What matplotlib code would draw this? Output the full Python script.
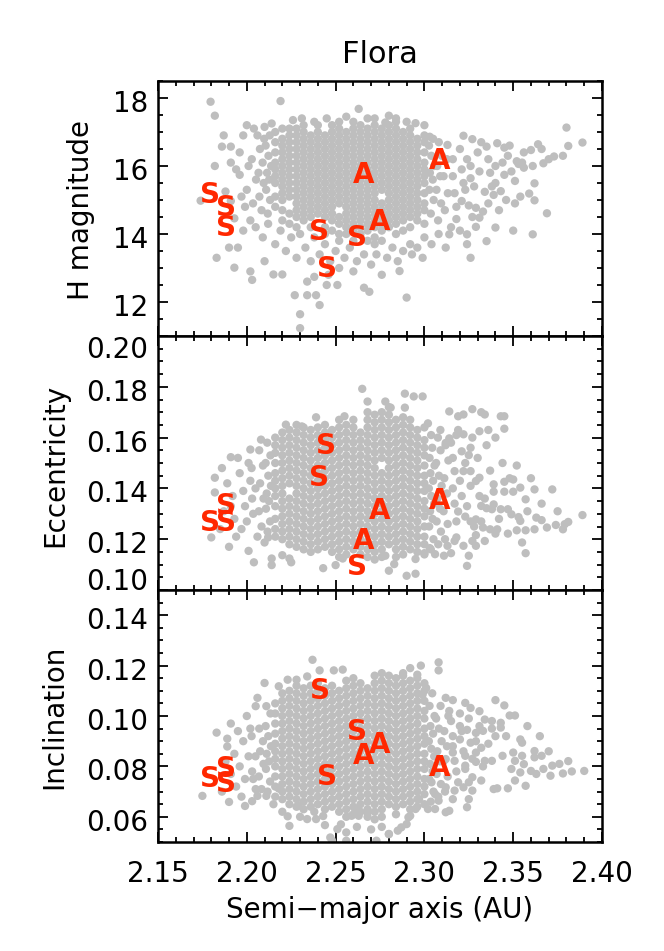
import matplotlib
matplotlib.use('Agg')
import matplotlib.pyplot as plt
from matplotlib.ticker import MultipleLocator, FormatStrFormatter
from matplotlib.transforms import ScaledTranslation

# ---- data ----
# taxonomic types (red letters): type, a (AU), H, e, i
tax_type = ['S', 'S', 'S', 'S', 'S', 'S', 'A', 'A', 'A']
tax_a_H = [2.1791, 2.1882, 2.1882, 2.2408, 2.2618, 2.2449, 2.2656, 2.2750, 2.3088]
tax_H = [15.15, 14.76, 14.19, 14.05, 13.87, 12.97, 15.74, 14.36, 16.15]
tax_a_e = [2.1791, 2.1882, 2.1882, 2.2408, 2.2618, 2.2444, 2.2656, 2.2750, 2.3088]
tax_e = [0.1265, 0.1331, 0.1265, 0.1439, 0.1091, 0.1566, 0.1193, 0.1311, 0.1350]
tax_a_i = [2.1791, 2.1882, 2.1882, 2.2412, 2.2618, 2.2449, 2.2656, 2.2750, 2.3088]
tax_i = [0.0749, 0.0789, 0.0729, 0.1101, 0.0936, 0.0756, 0.0841, 0.0883, 0.0795]

# dense family core, column by column: (a in 1e-3 AU, [H in 0.1 mag])
core_H = [
    (2216, [148, 151, 155, 157, 159, 161, 164, 167, 170]),
    (2220, [144, 147, 150, 152, 154, 156, 158, 160, 162, 164, 166, 168, 171]),
    (2224, [143, 146, 151, 153, 155, 157, 159, 161, 163, 165, 167, 169, 171]),
    (2228, [142, 145, 147, 149, 151, 153, 155, 157, 159, 161, 163, 165, 167, 169, 171]),
    (2232, [144, 146, 148, 150, 152, 154, 156, 158, 160, 162, 164, 166, 168, 170, 172]),
    (2236, [142, 145, 147, 149, 151, 153, 155, 157, 159, 161, 163, 165, 167, 169]),
    (2240, [146, 148, 150, 152, 154, 156, 158, 160, 162, 164, 166, 168, 170, 172]),
    (2244, [140, 142, 145, 147, 149, 151, 153, 155, 157, 159, 161, 163, 165, 167, 169]),
    (2248, [141, 144, 146, 148, 150, 152, 154, 156, 158, 160, 162, 164, 166, 168, 170, 172]),
    (2252, [138, 140, 143, 145, 149, 151, 153, 155, 157, 159, 161, 163, 165, 167, 169, 171, 173]),
    (2256, [140, 142, 144, 146, 148, 150, 152, 154, 156, 158, 160, 162, 164, 166, 168, 170]),
    (2260, [138, 141, 143, 145, 147, 149, 151, 153, 155, 157, 159, 161, 163, 165, 167, 169, 171, 173]),
    (2264, [140, 142, 144, 146, 148, 150, 152, 154, 156, 158, 160, 162, 164, 166, 168, 170, 172]),
    (2268, [138, 141, 143, 145, 147, 149, 151, 153, 155, 157, 159, 161, 163, 165, 167, 169, 171]),
    (2272, [137, 139, 142, 144, 146, 148, 150, 152, 154, 156, 158, 160, 162, 164, 166, 168, 170, 172, 174]),
    (2276, [138, 141, 143, 145, 147, 149, 153, 155, 157, 159, 161, 163, 165, 167, 169, 171]),
    (2280, [142, 144, 146, 148, 150, 152, 154, 156, 158, 160, 162, 164, 166, 168, 170, 172]),
    (2284, [140, 143, 145, 147, 149, 151, 153, 155, 157, 159, 161, 163, 165, 167, 169, 171, 173]),
    (2288, [141, 144, 146, 148, 150, 152, 154, 156, 158, 160, 162, 164, 166, 168, 170]),
    (2292, [142, 145, 147, 149, 151, 153, 155, 157, 159, 161, 163, 165, 167, 169, 171]),
    (2296, [144, 146, 148, 150, 152, 154, 156, 158, 160, 162, 164, 166, 168]),
    (2300, [143, 147, 149, 152, 155, 157, 159, 161, 164, 167, 169]),
]
# scattered members outside the core: (a, H)
halo_H = [
    (2.2035, 14.9), (2.2052, 15.6), (2.2028, 16.2),
    (2.2083, 14.7), (2.2071, 15.1), (2.2095, 15.5), (2.2066, 15.8), (2.2089, 16.1),
    (2.2074, 16.5), (2.2098, 16.8),
    (2.2118, 14.6), (2.2131, 15.0), (2.2109, 15.3), (2.2126, 15.6), (2.2114, 15.8),
    (2.2137, 16.0), (2.2122, 16.3), (2.2106, 16.6), (2.2129, 16.9),
    (2.3036, 14.6), (2.3052, 15.0), (2.3028, 15.3), (2.3047, 15.6), (2.3031, 15.8),
    (2.3055, 16.0), (2.3039, 16.3), (2.3026, 16.6), (2.3049, 16.8),
    (2.3077, 14.4), (2.3094, 14.9), (2.3068, 15.3), (2.3089, 15.7), (2.3072, 16.0),
    (2.3098, 16.3), (2.3081, 16.7),
    (2.3115, 14.7), (2.3132, 15.2), (2.3108, 15.7), (2.3127, 16.2),
    (2.1796, 17.89), (2.182, 17.48), (2.219, 17.91), (2.263, 17.68), (2.182, 16.0),
    (2.174, 14.98), (2.183, 13.3), (2.193, 13.01), (2.202, 12.9), (2.203, 12.65),
    (2.215, 12.81), (2.220, 12.81), (2.227, 12.2), (2.234, 12.2), (2.239, 12.2),
    (2.241, 11.91), (2.230, 11.64), (2.230, 11.23), (2.234, 12.6), (2.238, 12.74),
    (2.245, 12.5), (2.251, 12.5), (2.266, 12.42), (2.269, 12.3), (2.190, 13.6),
    (2.195, 13.6), (2.187, 16.9), (2.186, 16.57), (2.191, 16.57), (2.191, 16.1),
    (2.196, 15.74), (2.188, 15.25), (2.191, 14.97), (2.193, 14.46),
    (2.196, 16.4), (2.198, 16.9), (2.200, 15.3), (2.199, 14.8), (2.201, 16.0),
    (2.197, 15.1), (2.194, 15.9), (2.202, 14.4), (2.198, 14.1), (2.206, 16.9),
    (2.204, 17.1), (2.210, 17.15), (2.214, 17.25), (2.200, 17.2),
    (2.226, 17.35), (2.238, 17.3), (2.245, 17.4), (2.256, 17.45), (2.268, 17.4),
    (2.284, 17.4), (2.290, 17.3), (2.300, 17.2), (2.231, 17.4),
    (2.205, 14.2), (2.209, 13.9), (2.212, 14.3), (2.216, 13.7), (2.219, 14.1),
    (2.222, 13.5), (2.225, 13.9), (2.228, 13.3), (2.230, 14.0), (2.233, 13.6),
    (2.236, 13.2), (2.238, 13.9), (2.241, 13.4), (2.244, 13.7), (2.247, 13.2),
    (2.250, 13.5), (2.252, 13.0), (2.255, 13.3), (2.258, 13.6), (2.260, 12.9),
    (2.262, 13.2), (2.266, 13.4), (2.270, 13.1), (2.273, 13.4), (2.276, 12.8),
    (2.279, 13.3), (2.282, 13.6), (2.285, 13.2), (2.288, 13.5), (2.292, 13.7),
    (2.296, 13.6), (2.300, 13.9), (2.304, 13.7), (2.308, 14.0), (2.210, 13.2),
    (2.246, 12.8),
    (2.280, 17.48), (2.278, 17.28), (2.295, 17.26), (2.303, 16.86), (2.313, 16.62),
    (2.322, 16.89), (2.327, 16.79), (2.332, 16.7), (2.335, 16.57), (2.341, 16.67),
    (2.345, 16.54), (2.360, 16.47), (2.364, 16.64), (2.373, 16.28), (2.378, 16.3),
    (2.380, 17.13), (2.381, 16.59), (2.389, 16.69), (2.367, 16.08), (2.361, 16.0),
    (2.355, 16.1), (2.356, 15.95), (2.362, 15.49), (2.362, 14.99), (2.369, 14.61),
    (2.361, 13.99), (2.350, 14.1), (2.351, 14.9), (2.354, 15.1), (2.359, 15.19),
    (2.351, 15.56), (2.342, 14.7), (2.340, 14.19), (2.335, 13.79), (2.326, 13.3),
    (2.324, 13.7), (2.324, 13.99), (2.312, 13.6), (2.299, 13.3), (2.293, 13.4),
    (2.286, 12.91), (2.290, 12.13), (2.314, 13.99), (2.318, 14.44), (2.329, 14.21),
    (2.331, 14.48), (2.333, 14.66), (2.329, 14.77), (2.334, 15.24), (2.339, 15.15),
    (2.343, 15.26), (2.340, 15.5), (2.345, 15.74), (2.349, 15.84), (2.353, 16.06),
    (2.352, 16.14), (2.340, 16.0), (2.331, 15.84), (2.326, 15.64), (2.323, 15.3),
    (2.321, 14.97), (2.325, 14.84),
    (2.316, 16.2), (2.316, 15.7), (2.317, 15.2), (2.318, 14.8), (2.320, 16.5),
    (2.321, 15.9), (2.322, 15.5), (2.324, 16.2), (2.326, 16.0), (2.328, 15.4),
    (2.330, 16.4), (2.336, 16.2), (2.337, 15.8), (2.344, 16.1), (2.347, 16.3),
    (2.315, 14.2), (2.320, 14.1), (2.327, 14.5), (2.336, 14.9), (2.338, 15.4),
    (2.346, 15.0), (2.348, 16.6), (2.356, 16.4), (2.366, 16.5), (2.370, 16.2),
]

# (a in 1e-3 AU, [e in 1e-3])
core_e = [
    (2216, [121, 124, 128, 133, 137, 140, 143, 146, 150, 154, 157, 160]),
    (2220, [120, 123, 126, 129, 132, 135, 138, 141, 144, 147, 150, 153, 156, 159, 162]),
    (2224, [118, 121, 124, 127, 130, 133, 136, 142, 145, 148, 151, 154, 157, 160, 163]),
    (2228, [117, 120, 123, 126, 129, 132, 135, 138, 141, 144, 147, 150, 153, 156, 159, 162, 165]),
    (2232, [116, 119, 122, 125, 128, 131, 134, 137, 140, 143, 146, 149, 152, 155, 158, 161, 164]),
    (2236, [115, 118, 121, 124, 127, 130, 133, 136, 139, 142, 145, 148, 151, 154, 157, 160, 163]),
    (2240, [116, 119, 122, 125, 128, 131, 134, 137, 140, 143, 146, 149, 152, 155, 158, 161, 164]),
    (2244, [117, 120, 123, 126, 129, 132, 135, 138, 141, 144, 147, 150, 153, 156, 159, 162, 165]),
    (2248, [115, 118, 121, 124, 127, 130, 133, 136, 139, 142, 145, 148, 151, 154, 157, 160, 163]),
    (2252, [113, 116, 119, 122, 125, 128, 131, 134, 137, 140, 143, 146, 149, 152, 155, 158, 161, 164, 167]),
    (2256, [114, 117, 120, 123, 126, 129, 132, 135, 138, 141, 144, 147, 150, 153, 156, 159, 162, 165]),
    (2260, [116, 119, 122, 125, 128, 131, 134, 137, 140, 143, 146, 149, 152, 155, 158, 161, 164, 167]),
    (2264, [114, 117, 120, 123, 126, 129, 132, 135, 138, 141, 144, 147, 150, 153, 156, 159, 162]),
    (2268, [113, 116, 119, 122, 125, 128, 131, 134, 137, 140, 143, 146, 149, 152, 155, 158, 161, 164, 167, 170]),
    (2272, [112, 115, 118, 121, 124, 127, 130, 133, 136, 139, 142, 145, 148, 151, 154, 157, 160, 163, 166, 169]),
    (2276, [113, 116, 119, 122, 125, 128, 131, 134, 137, 140, 143, 146, 152, 155, 158, 161, 164, 167, 170]),
    (2280, [118, 121, 124, 127, 130, 133, 136, 139, 142, 145, 148, 151, 154, 157, 160, 163, 166, 169, 172]),
    (2284, [113, 116, 119, 122, 125, 128, 131, 134, 137, 140, 143, 146, 149, 152, 155, 158, 161, 164, 167]),
    (2288, [114, 117, 120, 123, 126, 129, 132, 135, 138, 141, 144, 147, 150, 153, 156, 159, 162, 165, 168]),
    (2292, [116, 119, 122, 125, 128, 131, 134, 137, 140, 143, 146, 149, 152, 155, 158, 161, 164, 167]),
    (2296, [115, 118, 121, 124, 127, 130, 133, 136, 139, 142, 145, 148, 151, 154, 157, 160, 163]),
    (2300, [114, 118, 121, 125, 129, 132, 135, 139, 142, 145, 149, 153, 156, 159, 164]),
]
halo_e = [
    (2.2036, 0.130), (2.2049, 0.140), (2.2027, 0.148),
    (2.2083, 0.125), (2.2068, 0.131), (2.2094, 0.136), (2.2075, 0.142), (2.2091, 0.149),
    (2.2070, 0.155),
    (2.2117, 0.123), (2.2131, 0.127), (2.2108, 0.132), (2.2125, 0.135), (2.2112, 0.138),
    (2.2136, 0.141), (2.2121, 0.145), (2.2106, 0.150), (2.2133, 0.153), (2.2115, 0.158),
    (2.3036, 0.116), (2.3051, 0.120), (2.3027, 0.125), (2.3046, 0.128), (2.3032, 0.131),
    (2.3055, 0.134), (2.3039, 0.137), (2.3025, 0.140), (2.3049, 0.143), (2.3034, 0.146),
    (2.3057, 0.149), (2.3029, 0.152), (2.3044, 0.156), (2.3038, 0.161),
    (2.3078, 0.118), (2.3093, 0.123), (2.3069, 0.127), (2.3088, 0.132), (2.3073, 0.136),
    (2.3097, 0.141), (2.3082, 0.145), (2.3066, 0.150), (2.3091, 0.155), (2.3076, 0.160),
    (2.3116, 0.120), (2.3131, 0.126), (2.3108, 0.131), (2.3127, 0.138), (2.3112, 0.144),
    (2.3135, 0.151), (2.3119, 0.157),
    (2.265, 0.1792), (2.268, 0.1742), (2.239, 0.168), (2.255, 0.1684), (2.222, 0.1651),
    (2.231, 0.1644), (2.208, 0.1592), (2.202, 0.1553), (2.191, 0.1523), (2.182, 0.1442),
    (2.182, 0.1384), (2.180, 0.1207), (2.190, 0.117), (2.201, 0.1154), (2.204, 0.1109),
    (2.214, 0.1098), (2.214, 0.1124), (2.220, 0.1137), (2.225, 0.1109), (2.224, 0.1124),
    (2.243, 0.1086), (2.250, 0.1098), (2.254, 0.1124), (2.210, 0.1187), (2.212, 0.1207),
    (2.186, 0.148), (2.189, 0.142), (2.192, 0.137), (2.187, 0.131), (2.193, 0.128),
    (2.196, 0.146), (2.198, 0.139), (2.199, 0.133), (2.197, 0.124), (2.201, 0.150),
    (2.202, 0.143), (2.203, 0.136), (2.194, 0.121), (2.185, 0.124), (2.191, 0.133),
    (2.200, 0.127), (2.206, 0.121), (2.195, 0.152),
    (2.289, 0.1773), (2.294, 0.1762), (2.299, 0.1762), (2.278, 0.1742), (2.281, 0.1718),
    (2.289, 0.1718), (2.314, 0.1703), (2.319, 0.1684), (2.322, 0.1691), (2.327, 0.1712),
    (2.332, 0.170), (2.334, 0.1691), (2.343, 0.1684), (2.345, 0.1684), (2.345, 0.1635),
    (2.336, 0.163), (2.331, 0.1625), (2.322, 0.1613), (2.318, 0.161), (2.314, 0.1597),
    (2.309, 0.163), (2.302, 0.1656), (2.312, 0.1579), (2.321, 0.1546), (2.326, 0.156),
    (2.325, 0.1531), (2.317, 0.1468), (2.322, 0.1468), (2.326, 0.1468), (2.331, 0.1442),
    (2.329, 0.1429), (2.345, 0.1426), (2.350, 0.1435), (2.354, 0.1403), (2.362, 0.1396),
    (2.372, 0.1396), (2.339, 0.1416), (2.339, 0.1387), (2.345, 0.1387), (2.350, 0.1387),
    (2.339, 0.1337), (2.334, 0.136), (2.332, 0.1331), (2.335, 0.1322), (2.338, 0.1318),
    (2.343, 0.1318), (2.347, 0.1318), (2.349, 0.1298), (2.353, 0.1287), (2.354, 0.1272),
    (2.357, 0.1357), (2.363, 0.1285), (2.366, 0.1275), (2.369, 0.1246), (2.374, 0.1256),
    (2.379, 0.1259), (2.381, 0.1268), (2.378, 0.1239), (2.389, 0.1295), (2.362, 0.1239),
    (2.357, 0.1235), (2.352, 0.1235), (2.355, 0.1187), (2.357, 0.1145), (2.347, 0.1222),
    (2.340, 0.1222), (2.341, 0.1239), (2.337, 0.1239), (2.333, 0.1246), (2.332, 0.127),
    (2.329, 0.1278), (2.326, 0.127), (2.323, 0.1289), (2.319, 0.1309), (2.329, 0.1216),
    (2.327, 0.1193), (2.334, 0.1193), (2.329, 0.1174), (2.325, 0.1135), (2.324, 0.1095),
    (2.318, 0.1207), (2.317, 0.1193), (2.322, 0.1174), (2.313, 0.1174), (2.311, 0.1135),
    (2.315, 0.1145), (2.306, 0.1141), (2.300, 0.1145), (2.303, 0.1165), (2.295, 0.1122),
    (2.290, 0.1056), (2.295, 0.1064), (2.280, 0.1076), (2.283, 0.1102), (2.278, 0.1135),
    (2.316, 0.152), (2.316, 0.140), (2.317, 0.134), (2.318, 0.127), (2.320, 0.143),
    (2.321, 0.137), (2.323, 0.150), (2.324, 0.133), (2.326, 0.141), (2.328, 0.125),
    (2.330, 0.152), (2.331, 0.137), (2.315, 0.158), (2.319, 0.163), (2.327, 0.160),
    (2.335, 0.157), (2.340, 0.160), (2.337, 0.147), (2.344, 0.150), (2.348, 0.144),
    (2.352, 0.149), (2.360, 0.144), (2.342, 0.128), (2.358, 0.131), (2.366, 0.134),
    (2.375, 0.131),
]

# (a in 1e-3 AU, [i in 1e-3])
core_i = [
    (2216, [68, 72, 76, 80, 83, 86, 89, 93, 97, 101, 105]),
    (2220, [67, 70, 73, 76, 79, 82, 85, 88, 91, 94, 97, 100, 103, 106, 109]),
    (2224, [65, 68, 71, 74, 77, 80, 83, 86, 89, 92, 95, 98, 101, 104, 107, 110]),
    (2228, [64, 67, 70, 73, 76, 79, 82, 85, 88, 91, 94, 97, 100, 103, 106, 109, 112]),
    (2232, [63, 66, 69, 72, 75, 78, 81, 84, 87, 90, 93, 96, 99, 102, 105, 108, 111]),
    (2236, [64, 67, 70, 73, 76, 79, 82, 85, 88, 91, 94, 97, 100, 103, 106, 109, 112]),
    (2240, [65, 68, 71, 74, 77, 80, 83, 86, 89, 92, 95, 98, 101, 104, 107, 110, 113]),
    (2244, [63, 66, 69, 72, 75, 78, 81, 84, 87, 90, 93, 96, 99, 102, 105, 108, 111]),
    (2248, [64, 67, 70, 73, 76, 79, 82, 85, 88, 91, 94, 97, 100, 103, 106, 109, 112]),
    (2252, [62, 65, 68, 71, 74, 77, 80, 83, 86, 89, 92, 95, 98, 101, 104, 107, 110]),
    (2256, [60, 63, 66, 69, 72, 75, 78, 81, 84, 87, 90, 93, 96, 99, 102, 105, 108, 111, 114]),
    (2260, [61, 64, 67, 70, 73, 76, 79, 82, 85, 88, 91, 94, 97, 100, 103, 106, 109, 112, 115]),
    (2264, [62, 65, 68, 71, 74, 77, 80, 83, 86, 89, 92, 95, 98, 101, 104, 107, 110, 113]),
    (2268, [60, 63, 66, 69, 72, 75, 78, 81, 84, 87, 90, 93, 96, 99, 102, 105, 108, 111]),
    (2272, [59, 62, 65, 68, 71, 74, 77, 80, 83, 86, 89, 92, 95, 98, 101, 104, 107, 110, 113, 116]),
    (2276, [60, 63, 66, 69, 72, 75, 78, 81, 84, 87, 90, 93, 96, 99, 102, 105, 108, 111, 114, 117]),
    (2280, [65, 68, 71, 74, 77, 80, 83, 86, 89, 92, 95, 98, 101, 104, 107, 110, 113, 116]),
    (2284, [61, 64, 67, 70, 73, 76, 79, 82, 85, 88, 91, 94, 97, 100, 103, 106, 109, 112, 115]),
    (2288, [65, 68, 71, 74, 77, 80, 83, 86, 89, 92, 95, 98, 101, 104, 107, 110, 113, 116]),
    (2292, [63, 66, 69, 72, 75, 78, 81, 84, 87, 90, 93, 96, 99, 102, 105, 108, 111, 114]),
    (2296, [64, 67, 70, 73, 76, 79, 82, 85, 88, 91, 94, 97, 100, 103, 106, 109, 112, 115]),
    (2300, [65, 69, 72, 75, 79, 82, 85, 89, 92, 95, 99, 102, 106, 110, 113]),
]
halo_i = [
    (2.2036, 0.075), (2.2049, 0.084), (2.2027, 0.092),
    (2.2083, 0.071), (2.2068, 0.076), (2.2094, 0.081), (2.2075, 0.086), (2.2091, 0.090),
    (2.2070, 0.095),
    (2.2117, 0.070), (2.2131, 0.074), (2.2108, 0.079), (2.2125, 0.082), (2.2112, 0.085),
    (2.2136, 0.088), (2.2121, 0.092), (2.2106, 0.096), (2.2133, 0.101),
    (2.3036, 0.066), (2.3051, 0.070), (2.3027, 0.075), (2.3046, 0.078), (2.3032, 0.081),
    (2.3055, 0.084), (2.3039, 0.087), (2.3025, 0.090), (2.3049, 0.093), (2.3034, 0.096),
    (2.3057, 0.100), (2.3029, 0.104), (2.3044, 0.109),
    (2.3078, 0.068), (2.3093, 0.073), (2.3069, 0.077), (2.3088, 0.082), (2.3073, 0.086),
    (2.3097, 0.090), (2.3082, 0.095), (2.3066, 0.099), (2.3091, 0.104),
    (2.3116, 0.070), (2.3131, 0.076), (2.3108, 0.082), (2.3127, 0.088), (2.3112, 0.094),
    (2.3135, 0.100),
    (2.237, 0.1223), (2.241, 0.1181), (2.249, 0.1181), (2.254, 0.1184), (2.234, 0.1157),
    (2.228, 0.1144), (2.210, 0.1131), (2.218, 0.1118), (2.223, 0.1144), (2.206, 0.1072),
    (2.205, 0.1039), (2.211, 0.1039), (2.191, 0.097), (2.195, 0.094), (2.183, 0.0934),
    (2.189, 0.091), (2.189, 0.0879), (2.175, 0.0683), (2.190, 0.0659), (2.199, 0.0643),
    (2.203, 0.0662), (2.206, 0.0683), (2.211, 0.0683), (2.218, 0.0712), (2.223, 0.0602),
    (2.224, 0.0564), (2.229, 0.0643), (2.234, 0.0591), (2.239, 0.0591), (2.244, 0.0567),
    (2.243, 0.0603), (2.251, 0.0551), (2.248, 0.0505), (2.259, 0.0604), (2.261, 0.0631),
    (2.263, 0.0604), (2.268, 0.0617), (2.247, 0.0518), (2.256, 0.0538), (2.256, 0.0505),
    (2.273, 0.0505), (2.280, 0.0531), (2.285, 0.0545),
    (2.193, 0.085), (2.196, 0.080), (2.198, 0.090), (2.199, 0.075), (2.201, 0.084),
    (2.202, 0.095), (2.194, 0.072), (2.188, 0.082), (2.191, 0.077), (2.197, 0.068),
    (2.203, 0.078), (2.200, 0.100), (2.186, 0.070), (2.205, 0.071),
    (2.308, 0.1213), (2.308, 0.1181), (2.298, 0.120), (2.292, 0.119), (2.288, 0.117),
    (2.296, 0.1164), (2.301, 0.1111), (2.299, 0.1085), (2.312, 0.1072), (2.316, 0.1063),
    (2.323, 0.1052), (2.326, 0.1032), (2.331, 0.1019), (2.340, 0.1063), (2.345, 0.1042),
    (2.348, 0.1002), (2.351, 0.1002), (2.334, 0.0986), (2.338, 0.098), (2.343, 0.0973),
    (2.343, 0.0954), (2.338, 0.095), (2.333, 0.0941), (2.340, 0.092), (2.329, 0.0933),
    (2.324, 0.0945), (2.320, 0.096), (2.316, 0.092), (2.320, 0.0907), (2.326, 0.0894),
    (2.332, 0.0874), (2.329, 0.0855), (2.323, 0.0842), (2.316, 0.0855), (2.312, 0.0829),
    (2.317, 0.0822), (2.323, 0.0803), (2.329, 0.0818), (2.334, 0.0822), (2.338, 0.0822),
    (2.344, 0.0842), (2.350, 0.0855), (2.355, 0.0894), (2.354, 0.0907), (2.362, 0.0861),
    (2.366, 0.0842), (2.362, 0.0836), (2.355, 0.0842), (2.351, 0.0822), (2.356, 0.0809),
    (2.360, 0.0782), (2.363, 0.0770), (2.367, 0.0790), (2.372, 0.0803), (2.381, 0.0821),
    (2.390, 0.0782), (2.378, 0.0772), (2.371, 0.0763), (2.354, 0.0776), (2.351, 0.0744),
    (2.357, 0.0723), (2.347, 0.0713), (2.341, 0.0713), (2.339, 0.071), (2.332, 0.0744),
    (2.327, 0.0757), (2.323, 0.079), (2.325, 0.0737), (2.322, 0.0717), (2.327, 0.0704),
    (2.325, 0.067), (2.324, 0.0638), (2.319, 0.0737), (2.317, 0.0704), (2.316, 0.067),
    (2.314, 0.0624), (2.312, 0.0618), (2.306, 0.0631), (2.302, 0.0631), (2.308, 0.0664),
    (2.306, 0.069), (2.312, 0.0717), (2.304, 0.0737), (2.297, 0.067), (2.295, 0.0631),
    (2.292, 0.0604), (2.290, 0.0571), (2.287, 0.0558), (2.280, 0.0532), (2.291, 0.0598),
    (2.315, 0.098), (2.316, 0.088), (2.318, 0.078), (2.320, 0.101), (2.321, 0.094),
    (2.322, 0.086), (2.325, 0.099), (2.327, 0.083), (2.329, 0.090), (2.331, 0.096),
    (2.333, 0.080), (2.314, 0.102), (2.336, 0.089), (2.346, 0.092), (2.349, 0.079),
    (2.358, 0.096), (2.365, 0.092), (2.370, 0.086), (2.376, 0.081), (2.383, 0.078),
    (2.215, 0.065), (2.220, 0.062), (2.230, 0.060), (2.238, 0.062), (2.253, 0.057),
    (2.262, 0.056), (2.270, 0.055), (2.276, 0.056),
]

x_ticks = [2.15, 2.20, 2.25, 2.30, 2.35, 2.40]
GRAY = '#BEBEBE'
RED = '#FF2800'


def members(core, halo, vscale):
    xs = [c / 1000.0 for c, vals in core for v in vals] + [p[0] for p in halo]
    ys = [v * vscale for c, vals in core for v in vals] + [p[1] for p in halo]
    return xs, ys


W, H = 664, 951
fig = plt.figure(figsize=(W / 100, H / 100), dpi=100)

panels = [
    dict(px=(81, 336), core=core_H, halo=halo_H, vs=0.1, ylim=(11.0, 18.5),
         major=2.0, minor=0.5, yt=[12, 14, 16, 18], fmt='%d',
         ta=tax_a_H, tv=tax_H, label='H magnitude', lab_xy=(81, 210)),
    dict(px=(336, 590), core=core_e, halo=halo_e, vs=0.001, ylim=(0.10, 0.20),
         major=0.02, minor=0.005, yt=[0.10, 0.12, 0.14, 0.16, 0.18, 0.20], fmt='%.2f',
         ta=tax_a_e, tv=tax_e, label='Eccentricity', lab_xy=(55, 465)),
    dict(px=(590, 842), core=core_i, halo=halo_i, vs=0.001, ylim=(0.05, 0.15),
         major=0.02, minor=0.005, yt=[0.06, 0.08, 0.10, 0.12, 0.14], fmt='%.2f',
         ta=tax_a_i, tv=tax_i, label='Inclination', lab_xy=(54, 717)),
]

x0, x1 = 158, 602
for k, p in enumerate(panels):
    top, bot = p['px']
    ax = fig.add_axes([x0 / W, 1 - bot / H, (x1 - x0) / W, (bot - top) / H])
    xs, ys = members(p['core'], p['halo'], p['vs'])
    ax.scatter(xs, ys, s=36, c=GRAY, edgecolors='none', zorder=2)
    for t, a, v in zip(tax_type, p['ta'], p['tv']):
        ax.text(a, v, t, color=RED, fontsize=20, fontweight='bold',
                ha='center', va='center', zorder=3)

    ax.set_xlim(2.15, 2.40)
    ax.set_ylim(*p['ylim'])
    ax.set_xticks(x_ticks)
    ax.xaxis.set_minor_locator(MultipleLocator(0.01))
    ax.yaxis.set_major_locator(MultipleLocator(p['major']))
    ax.yaxis.set_minor_locator(MultipleLocator(p['minor']))
    ax.tick_params(which='both', direction='in', top=True, right=True, width=1.3,
                   labelleft=False)
    ax.tick_params(which='major', length=7.5)
    ax.tick_params(which='minor', length=3.8)
    for s in ax.spines.values():
        s.set_linewidth(1.8)

    if k < 2:
        ax.tick_params(labelbottom=False)
    else:
        ax.xaxis.set_major_formatter(FormatStrFormatter('%.2f'))
        ax.tick_params(axis='x', labelsize=20, pad=13)

    # y tick labels, end labels pulled inside the panel as in the original
    lo, hi = p['ylim']
    for v in p['yt']:
        if abs(v - hi) < 1e-9:
            va, dy = 'top', 0
        elif abs(v - lo) < 1e-9:
            va, dy = 'baseline', 0
        else:
            va, dy = 'center', -6
        tr = ax.get_yaxis_transform() + ScaledTranslation(-10 / 100, dy / 100, fig.dpi_scale_trans)
        ax.text(0, v, p['fmt'] % v, transform=tr, ha='right', va=va, fontsize=20)

    fig.text(p['lab_xy'][0] / W, 1 - p['lab_xy'][1] / H, p['label'],
             rotation=90, ha='center', va='center', fontsize=20)

fig.text(380 / W, 1 - 63 / H, 'Flora', ha='center', va='baseline', fontsize=22)
fig.text(380 / W, 1 - 918 / H, 'Semi\u2212major axis (AU)', ha='center',
         va='baseline', fontsize=20)

fig.savefig('out.png', dpi=100)
